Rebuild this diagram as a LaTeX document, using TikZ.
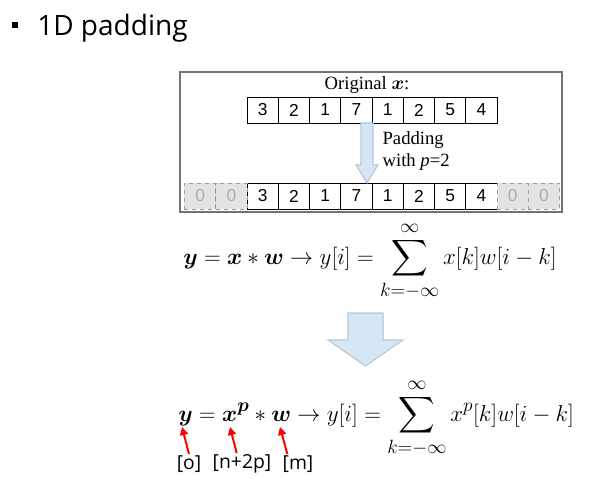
\documentclass[tikz,border=0pt]{standalone}
\usepackage{amsmath}
\usepackage{amssymb}
\usepackage{bm}
\usepackage[no-math]{fontspec}
\newfontfamily\titlefont{Open Sans}
\newfontfamily\cellfont{Liberation Sans}
\newfontfamily\notefont{Liberation Serif}
\usetikzlibrary{arrows.meta, positioning, calc}

\definecolor{arrowfill}{HTML}{D7E6F4}
\definecolor{arrowline}{HTML}{B4C6D8}
\definecolor{padfill}{HTML}{E3E3E3}
\definecolor{padgray}{HTML}{9A9A9A}

\tikzset{
  cell/.style={draw, line width=0.7pt, minimum width=23.44pt, minimum height=19.5pt,
    inner sep=0pt, outer sep=0pt, font=\cellfont\fontsize{13}{15}\selectfont},
  padcell/.style={cell, draw=padgray, dashed, fill=padfill, text=padgray!80},
  note/.style={font=\notefont\fontsize{14}{17}\selectfont, inner sep=1pt},
  blockarrow/.style={draw=arrowline, fill=arrowfill, line width=0.8pt, line join=miter},
  redarrow/.style={draw=red, line width=1.5pt, -{Triangle[length=6pt, width=6pt]}},
  lbl/.style={font=\titlefont\fontsize{14.5}{17}\selectfont, inner sep=1pt},
  eqn/.style={anchor=base west, inner sep=0pt, font=\fontsize{19}{22}\selectfont}
}

\begin{document}
\begin{tikzpicture}[x=0.75pt, y=-0.75pt]
\useasboundingbox (0,0) rectangle (604,485);

% Heading
\fill (12,22) rectangle (18,28);
\node[anchor=base west, inner sep=0pt, font=\titlefont\fontsize{21}{25}\selectfont] (title) at (37,36) {1D padding};

% Padding figure
\draw[line width=0.8pt, draw=black!55] (180,72) rectangle (562,212);
\node[note] (orig) at (367,85) {Original $\bm{x}$:};
\foreach \v [count=\i] in {3,2,1,7,1,2,5,4} {
  \node[cell] (top\i) at ({247+31.25*(\i-0.5)},110) {\v};
  \node[cell] (bot\i) at ({247+31.25*(\i-0.5)},196) {\v};
}
\foreach \j/\n in {-1/padL1, 0/padL2, 9/padR1, 10/padR2}
  \node[padcell] (\n) at ({247+31.25*(\j-0.5)},196) {0};
\draw[blockarrow] (361,123) -- (373,123) -- (373,165) -- (378,165) -- (367,183)
  -- (356,165) -- (361,165) -- cycle;
\node[note, anchor=west, align=left] (padtext) at (381,151) {Padding\\with \textit{p}=2};

% Convolution
\node[eqn] (eq1) at (183,264) {$\displaystyle \bm{y} = \bm{x} * \bm{w} \rightarrow y[i] = \sum_{k=-\infty}^{\infty} x[k]w[i-k]$};

% Big arrow
\draw[blockarrow] (348,313) -- (383,313) -- (383,340) -- (403,340) -- (365.5,366)
  -- (328,340) -- (348,340) -- cycle;

% Convolution with padding
\node[eqn] (eq2) at (178,421) {$\displaystyle \bm{y} = \bm{x}^{\bm{p}} * \bm{w} \rightarrow y[i] = \sum_{k=-\infty}^{\infty} x^{p}[k]w[i-k]$};

% Sizes
\node[lbl] (lo) at (189,464) {[o]};
\node[lbl] (lnp) at (242,464) {[n+2p]};
\node[lbl] (lm) at (298,464) {[m]};
\coordinate (yhead) at (182,427);
\coordinate (xhead) at (230,427);
\coordinate (whead) at (280,427);
\draw[redarrow] (lo.north) -- (yhead);
\draw[redarrow] ([xshift=-4pt]lnp.north) -- (xhead);
\draw[redarrow] ([xshift=-8pt]lm.north) -- (whead);
\end{tikzpicture}
\end{document}
